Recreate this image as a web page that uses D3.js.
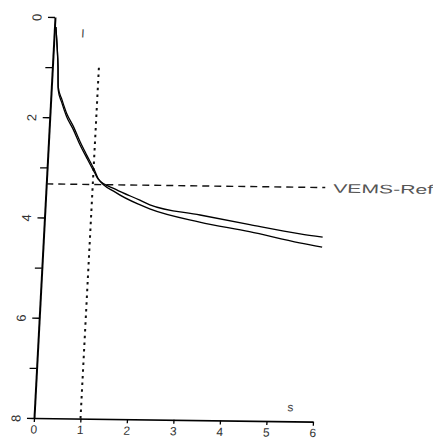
<!DOCTYPE html>
<html>
<head>
<meta charset="utf-8">
<script src="https://cdn.jsdelivr.net/npm/d3@7"></script>
<style>
  body { margin: 0; background: #fff; }
  svg { display: block; font-family: "Liberation Sans", Arial, sans-serif; }
</style>
</head>
<body>
<div id="wrapper"></div>
<script>
// time (s) shared by both traces
const timeValues = [0.03, 0.08, 0.12, 0.15, 0.24, 0.36, 0.52, 0.68, 0.84, 1.03, 1.11, 1.5, 2.03, 2.25, 3.34, 4.42, 5.51, 6.0];
// volume (l), axis points downward
const curveA = [0.2, 0.6, 1.0, 1.45, 1.7, 1.98, 2.24, 2.54, 2.8, 3.1, 3.22, 3.42, 3.63, 3.72, 3.91, 4.09, 4.26, 4.32];
const curveB = [0.2, 0.6, 0.97, 1.4, 1.64, 1.92, 2.18, 2.48, 2.75, 3.06, 3.21, 3.48, 3.72, 3.8, 4.05, 4.23, 4.44, 4.52];
const xTicks = [0, 1, 2, 3, 4, 5, 6];
const yTicks = [0, 1, 2, 3, 4, 5, 6, 7, 8];
const refVolume = 3.33;
const refTime = 1.0;
const refLabel = "VEMS-Ref";

const dimensions = { width: 433, height: 439, boundedWidth: 279, boundedHeight: 401 };

const svg = d3.select("#wrapper").append("svg")
  .attr("width", dimensions.width)
  .attr("height", dimensions.height);

svg.append("rect").attr("width", dimensions.width).attr("height", dimensions.height).attr("fill", "#fff");

// the scanned plot is slightly sheared, origin at bottom-left
const bounds = svg.append("g")
  .attr("transform", "matrix(1,0.013,-0.0524,1,34,418)");

const xScale = d3.scaleLinear().domain([0, 6]).range([0, dimensions.boundedWidth]);
const yScale = d3.scaleLinear().domain([0, 8]).range([-dimensions.boundedHeight, 0]);

// y axis
const yAxis = bounds.append("g")
  .call(d3.axisLeft(yScale).tickValues(yTicks).tickSize(7).tickSizeOuter(0)
    .tickFormat(d => d % 2 === 0 ? d : ""));
yAxis.select(".domain").attr("stroke", "#000").attr("stroke-width", 2);
yAxis.selectAll(".tick line").attr("stroke", "#000").attr("stroke-width", 1.3);
yAxis.selectAll(".tick text")
  .attr("x", 0).attr("dy", "0.35em")
  .attr("transform", "translate(-18,0) rotate(-90)")
  .attr("text-anchor", "middle")
  .style("font-size", "13px").attr("fill", "#333");

// x axis
const xAxis = bounds.append("g")
  .call(d3.axisBottom(xScale).tickValues(xTicks).tickSize(4).tickSizeOuter(0).tickPadding(3)
    .tickFormat(d3.format("d")));
xAxis.select(".domain").attr("stroke", "#000").attr("stroke-width", 1.6);
xAxis.selectAll(".tick line").attr("stroke", "#000").attr("stroke-width", 1.3);
xAxis.selectAll(".tick text").style("font-size", "12px").attr("fill", "#333");

// reference lines
bounds.append("line")
  .attr("x1", xScale(0)).attr("x2", xScale(6))
  .attr("y1", yScale(refVolume)).attr("y2", yScale(refVolume))
  .attr("stroke", "#111").attr("stroke-width", 1.4)
  .attr("stroke-dasharray", "7,5");

bounds.append("line")
  .attr("x1", xScale(refTime)).attr("x2", xScale(refTime))
  .attr("y1", yScale(8)).attr("y2", yScale(1))
  .attr("stroke", "#111").attr("stroke-width", 2)
  .attr("stroke-dasharray", "2.5,4.2");

// traces
const line = d3.line()
  .x(d => xScale(d[0]))
  .y(d => yScale(d[1]))
  .curve(d3.curveMonotoneX);

[curveA, curveB].forEach(series => {
  bounds.append("path")
    .datum(timeValues.map((t, i) => [t, series[i]]))
    .attr("d", line)
    .attr("fill", "none")
    .attr("stroke", "#000")
    .attr("stroke-width", 1.3);
});

// labels
bounds.append("text")
  .attr("x", xScale(6) + 8)
  .attr("y", yScale(refVolume) + 5)
  .attr("textLength", 100)
  .attr("lengthAdjust", "spacingAndGlyphs")
  .style("font-size", "12.5px")
  .attr("fill", "#555")
  .text(refLabel);

bounds.append("text")
  .attr("x", xScale(5.5))
  .attr("y", yScale(7.8))
  .attr("text-anchor", "middle")
  .style("font-size", "12px")
  .attr("fill", "#444")
  .text("s");

bounds.append("text")
  .attr("x", xScale(0.62))
  .attr("y", yScale(0.4))
  .attr("text-anchor", "middle")
  .style("font-size", "12px")
  .attr("fill", "#444")
  .text("I");
</script>
</body>
</html>
